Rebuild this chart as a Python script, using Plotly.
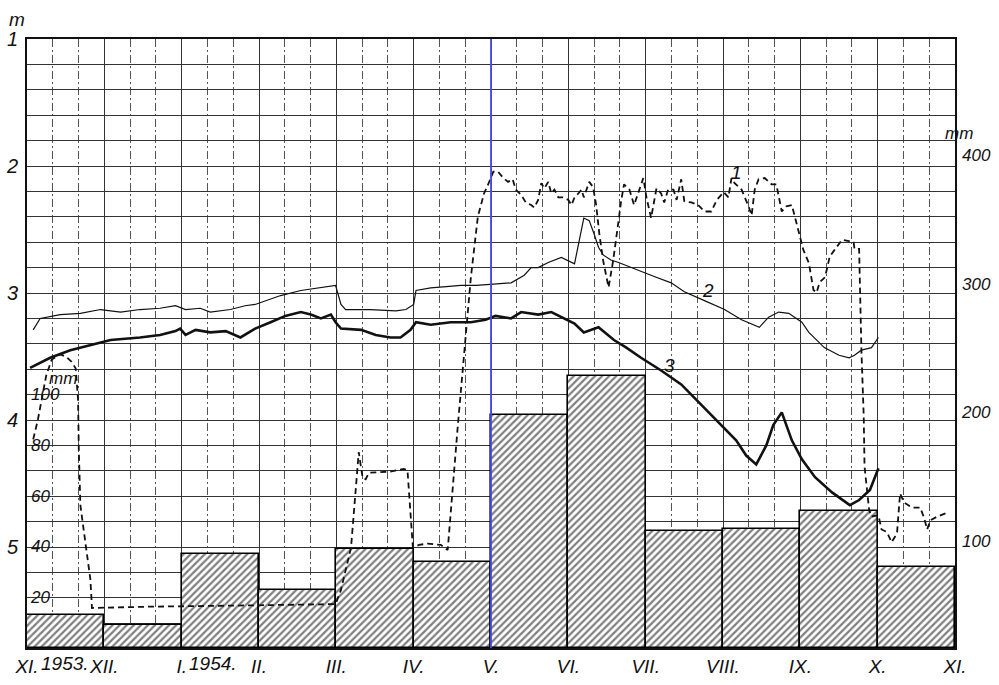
import plotly.graph_objects as go

FONT = "Liberation Sans Narrow, Liberation Sans, Arial, sans-serif"

# ---- categories / tick labels ----
month_ticks = [0, 1, 2, 3, 4, 5, 6, 7, 8, 9, 10, 11, 12]
month_labels = ["XI.", "XII.", "I.", "II.", "III.", "IV.", "V.", "VI.", "VII.", "VIII.", "IX.", "X.", "XI."]
m_ticks = [1, 2, 3, 4, 5]
rain_ticks = [20, 40, 60, 80, 100]
mm_ticks = [100, 200, 300, 400]

# ---- monthly precipitation (mm), bars ----
rain_x = [0.5, 1.5, 2.5, 3.5, 4.5, 5.5, 6.5, 7.5, 8.5, 9.5, 10.5, 11.5]
rain_mm = [13, 9, 37, 23, 39, 34, 92, 107, 46, 47, 54, 32]

# ---- curve 1 (dashed, mm, right axis) ----
s1_x = [0.08, 0.14, 0.19, 0.25, 0.32, 0.43, 0.51, 0.58, 0.63, 0.66, 0.67, 0.69, 0.75, 0.82, 0.84, 1.59, 2.89, 3.99,
        4.06, 4.19, 4.29, 4.34, 4.38, 4.42, 4.70, 4.87, 4.92, 4.99, 5.07, 5.18, 5.35, 5.44, 5.57, 5.68, 5.74, 5.83,
        5.91, 5.97, 6.03, 6.09, 6.16, 6.22, 6.28, 6.32, 6.39, 6.45, 6.52, 6.56, 6.61, 6.65, 6.69, 6.74, 6.78, 6.82,
        6.87, 6.93, 7.00, 7.04, 7.08, 7.13, 7.17, 7.20, 7.27, 7.32, 7.36, 7.40, 7.45, 7.52, 7.58, 7.65, 7.68, 7.72,
        7.79, 7.85, 7.90, 7.97, 8.01, 8.07, 8.14, 8.20, 8.24, 8.29, 8.36, 8.40, 8.46, 8.50, 8.59, 8.68, 8.76, 8.85,
        8.92, 9.01, 9.07, 9.11, 9.15, 9.20, 9.24, 9.33, 9.37, 9.41, 9.46, 9.54, 9.63, 9.69, 9.76, 9.82, 9.89, 9.95,
        10.04, 10.11, 10.17, 10.21, 10.25, 10.32, 10.38, 10.44, 10.54, 10.63, 10.69, 10.70, 10.76, 10.77, 10.79,
        10.82, 10.83, 10.89, 10.92, 11.01, 11.05, 11.12, 11.18, 11.25, 11.29, 11.34, 11.44, 11.55, 11.60, 11.64,
        11.68, 11.77, 11.90]
s1_mm = [179, 194, 210, 229, 241, 245, 243, 239, 234, 210, 171, 128, 101, 70, 48, 49, 50, 51,
         62, 95, 169, 149, 148, 153, 154, 156, 155, 95, 97, 98, 97, 93, 189, 264, 305, 352,
         370, 378, 387, 387, 382, 379, 381, 373, 369, 363, 361, 359, 365, 378, 374, 379, 370, 373,
         367, 367, 365, 361, 367, 370, 373, 367, 379, 375, 361, 339, 318, 297, 318, 349, 363, 377,
         373, 361, 370, 382, 367, 351, 374, 370, 363, 373, 373, 365, 381, 364, 363, 361, 356, 356,
         365, 371, 367, 382, 378, 375, 373, 360, 353, 373, 381, 382, 377, 377, 356, 360, 361, 347,
         326, 316, 295, 293, 301, 305, 321, 326, 334, 333, 332, 327, 327, 301, 248,
         196, 158, 124, 119, 120, 109, 107, 99, 106, 137, 130, 126, 126, 118, 109,
         116, 119, 122]

# ---- curve 2 (thin, depth m) ----
s2_x = [0.08, 0.17, 0.43, 0.69, 0.95, 1.21, 1.46, 1.72, 1.92, 2.05, 2.24, 2.37, 2.63, 2.82, 2.95, 3.08, 3.28, 3.54,
        3.80, 3.99, 4.06, 4.12, 4.44, 4.77, 4.90, 5.00, 5.03, 5.22, 5.42, 5.61, 5.81, 6.00, 6.26, 6.43, 6.52, 6.61,
        6.74, 6.91, 7.08, 7.20, 7.27, 7.33, 7.39, 7.45, 7.55, 7.65, 7.81, 7.97, 8.11, 8.33, 8.50, 8.76, 9.02, 9.24,
        9.47, 9.59, 9.72, 9.85, 10.02, 10.11, 10.31, 10.50, 10.63, 10.70, 10.79, 10.92, 11.01]
s2_m = [3.29, 3.20, 3.17, 3.16, 3.13, 3.15, 3.13, 3.12, 3.10, 3.13, 3.12, 3.15, 3.13, 3.10, 3.09, 3.06, 3.02, 2.98,
        2.96, 2.94, 3.09, 3.13, 3.13, 3.14, 3.13, 3.09, 2.98, 2.96, 2.95, 2.94, 2.94, 2.93, 2.92, 2.86, 2.80, 2.80,
        2.76, 2.72, 2.77, 2.41, 2.43, 2.53, 2.64, 2.70, 2.74, 2.76, 2.80, 2.84, 2.87, 2.92, 2.99, 3.06, 3.13, 3.21,
        3.27, 3.19, 3.15, 3.16, 3.23, 3.31, 3.43, 3.49, 3.51, 3.49, 3.45, 3.43, 3.35]

# ---- curve 3 (thick, depth m) ----
s3_x = [0.04, 0.30, 0.56, 0.82, 1.08, 1.46, 1.72, 1.92, 1.98, 2.05, 2.18, 2.37, 2.57, 2.76, 2.95, 3.15, 3.34, 3.54,
        3.67, 3.80, 3.93, 3.99, 4.06, 4.32, 4.51, 4.70, 4.83, 4.96, 5.03, 5.22, 5.48, 5.74, 5.93, 6.06, 6.26, 6.39,
        6.48, 6.61, 6.78, 6.95, 7.08, 7.20, 7.39, 7.59, 7.75, 7.94, 8.20, 8.46, 8.72, 8.98, 9.17, 9.30, 9.43, 9.56,
        9.65, 9.76, 9.89, 10.02, 10.19, 10.41, 10.64, 10.76, 10.90, 11.01]
s3_m = [3.59, 3.51, 3.45, 3.41, 3.37, 3.35, 3.33, 3.30, 3.28, 3.33, 3.29, 3.31, 3.30, 3.35, 3.28, 3.23, 3.18, 3.15,
        3.17, 3.20, 3.17, 3.23, 3.28, 3.29, 3.33, 3.35, 3.35, 3.29, 3.23, 3.25, 3.23, 3.23, 3.21, 3.18, 3.20, 3.15,
        3.16, 3.17, 3.15, 3.20, 3.24, 3.31, 3.27, 3.37, 3.43, 3.51, 3.61, 3.72, 3.88, 4.04, 4.16, 4.28, 4.35, 4.20,
        4.04, 3.94, 4.16, 4.31, 4.45, 4.57, 4.67, 4.63, 4.55, 4.38]

fig = go.Figure()

# bars on base axis (drawn first, lines on overlays go above)
fig.add_trace(go.Bar(
    x=rain_x, y=rain_mm, width=1.0, xaxis="x", yaxis="y",
    marker=dict(color="white", line=dict(color="black", width=1.6),
                pattern=dict(shape="/", fgcolor="#000", bgcolor="white", size=5, solidity=0.45)),
    showlegend=False, hoverinfo="skip"))

fig.add_trace(go.Scatter(x=s2_x, y=s2_m, mode="lines", yaxis="y2",
                         line=dict(color="#111", width=1.2), showlegend=False))
fig.add_trace(go.Scatter(x=s3_x, y=s3_m, mode="lines", yaxis="y2",
                         line=dict(color="#111", width=2.6), showlegend=False))
fig.add_trace(go.Scatter(x=s1_x, y=s1_mm, mode="lines", yaxis="y3",
                         line=dict(color="#111", width=1.8, dash="6px,4px"), showlegend=False))

tick_font = dict(family=FONT, size=19, color="#111", style="italic")
small_font = dict(family=FONT, size=17, color="#111", style="italic")

fig.update_layout(
    width=999, height=685,
    margin=dict(l=27, r=44, t=39, b=37, autoexpand=False),
    paper_bgcolor="white", plot_bgcolor="white",
    bargap=0,
    xaxis=dict(range=[0, 12], tickvals=month_ticks, ticktext=month_labels,
               tickfont=tick_font, ticks="", showline=True, mirror=True,
               linecolor="#111", linewidth=1.6, automargin=False,
               showgrid=True, gridcolor="#333", gridwidth=1,
               minor=dict(dtick=1/3, tick0=0, showgrid=True, gridcolor="#555",
                          gridwidth=1, griddash="8px,3px,2px,3px"),
               zeroline=False, anchor="y"),
    yaxis=dict(range=[0, 240], tickvals=rain_ticks, anchor="free", position=0,
               side="right", tickfont=small_font, ticks="", showgrid=False, automargin=False,
               zeroline=False, showline=False, ticklabelstandoff=3),
    yaxis2=dict(range=[5.795, 1], tickvals=m_ticks, overlaying="y", side="left",
                anchor="x", tickfont=dict(family=FONT, size=20, color="#111", style="italic"),
                ticks="", showline=True, mirror=True,
                linecolor="#111", linewidth=1.6, automargin=False,
                showgrid=True, gridcolor="#333", gridwidth=1,
                minor=dict(dtick=0.2, tick0=1, showgrid=True, gridcolor="#333", gridwidth=1),
                zeroline=False, ticklabelstandoff=3),
    yaxis3=dict(range=[16.9, 490], tickvals=mm_ticks, overlaying="y", side="right",
                anchor="x", tickfont=small_font, ticks="", showgrid=False, automargin=False,
                zeroline=False, showline=False, ticklabelstandoff=6),
)

# V. marker line (blue rule in the original)
fig.add_shape(type="line", xref="x", yref="paper", x0=6, x1=6, y0=0, y1=1,
              line=dict(color="#4a4ae8", width=1.8))

ann_font = dict(family=FONT, size=19, color="#111", style="italic")
fig.add_annotation(text="m", xref="paper", yref="paper", x=-0.011, y=1.012,
                   xanchor="center", yanchor="bottom",
                   showarrow=False, font=ann_font)
fig.add_annotation(text="mm", xref="paper", yref="paper", x=0.022, y=0.443,
                   showarrow=False, font=small_font)
fig.add_annotation(text="mm", xref="paper", yref="paper", x=1.022, y=0.864,
                   showarrow=False, font=small_font)
# year suffixes of tick labels
fig.add_annotation(text="1953.", xref="x", yref="paper", x=0, y=0, xanchor="left",
                   yanchor="top", xshift=12, yshift=-3, showarrow=False, font=tick_font)
fig.add_annotation(text="1954.", xref="x", yref="paper", x=2, y=0, xanchor="left",
                   yanchor="top", xshift=5, yshift=-3, showarrow=False, font=tick_font)
# curve numbers
fig.add_annotation(text="1", xref="x", yref="y2", x=9.17, y=2.05, showarrow=False, font=ann_font)
fig.add_annotation(text="2", xref="x", yref="y2", x=8.81, y=2.98, showarrow=False, font=ann_font)
fig.add_annotation(text="3", xref="x", yref="y2", x=8.31, y=3.57, showarrow=False, font=ann_font)

fig.write_html("out.html", config={"displayModeBar": False},
               post_script="document.body.style.margin='0';document.body.style.padding='0';")
